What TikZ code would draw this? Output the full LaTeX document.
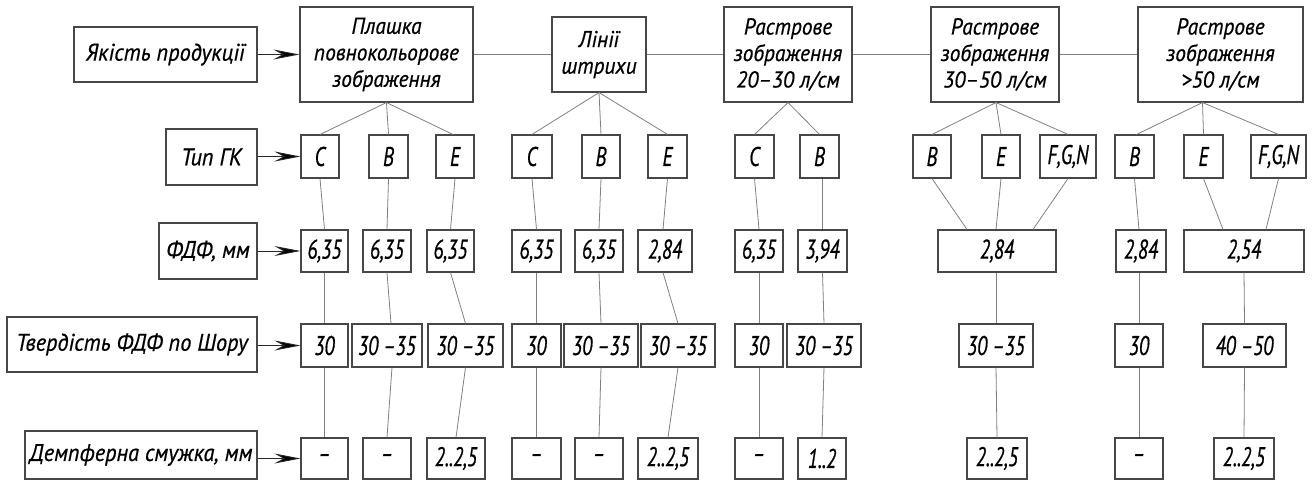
\documentclass[tikz,border=0pt]{standalone}
\usepackage{fontspec}
\setmainfont{PT Sans}[FakeStretch=0.93,FakeBold=0.6]
\newfontfamily\cellfont{PT Sans}[FakeStretch=0.72,FakeBold=0.6]
\usetikzlibrary{arrows.meta,calc}

\tikzset{
  cell/.style={draw=black!72, line width=1.1pt, inner sep=0pt, align=center,
    font=\cellfont\itshape\fontsize{27}{30}\selectfont},
  lbl/.style={cell, font=\itshape\fontsize{24}{28}\selectfont},
  head/.style={cell, font=\itshape\fontsize{23}{26.5}\selectfont},
  link/.style={draw=black!50, line width=0.8pt},
  feed/.style={draw=black!85, line width=0.9pt,
    -{Stealth[length=26pt,width=10pt,inset=9pt,fill=black]}},
}

% box given by its corners: name, x1, y1, x2, y2, text
\newcommand\mybox[7][cell]{%
  \node[#1, minimum width={#5-#3}, minimum height={#6-#4}] (#2)
    at ({(#3+#5)/2},{(#4+#6)/2}) {#7};}

\begin{document}
\begin{tikzpicture}[x=1pt,y=-1pt]
\useasboundingbox (0,0) rectangle (1312,480);

% ---- row 1: quality and kinds of printed image
\mybox[lbl]{q}{74}{27}{257}{82}{Якість продукції}
\mybox[head]{h1}{300}{7}{473}{102}{Плашка\\повнокольорове\\зображення}
\mybox[head]{h2}{552}{17}{646}{92}{Лінії\\штрихи}
\mybox[head]{h3}{724}{7}{852}{102}{Растрове\\зображення\\20–30 л/см}
\mybox[head]{h4}{931}{7}{1059}{102}{Растрове\\зображення\\30–50 л/см}
\mybox[head]{h5}{1138}{7}{1303}{102}{Растрове\\зображення\\>50 л/см}

% ---- row 2: corrugated board type
\mybox[lbl]{lt}{166}{129}{257}{185}{Тип ГК}
\mybox{t11}{301}{135}{339}{178}{C}
\mybox{t12}{369}{135}{408}{178}{B}
\mybox{t13}{436}{135}{474}{178}{E}
\mybox{t21}{512}{135}{552}{178}{C}
\mybox{t22}{582}{135}{620}{178}{B}
\mybox{t23}{648}{135}{687}{178}{E}
\mybox{t31}{735}{135}{774}{178}{C}
\mybox{t32}{800}{135}{839}{178}{B}
\mybox{t41}{913}{135}{951}{178}{B}
\mybox{t42}{982}{135}{1020}{178}{E}
\mybox{t43}{1040}{135}{1096}{178}{F,G,N}
\mybox{t51}{1115}{135}{1154}{178}{B}
\mybox{t52}{1184}{135}{1223}{178}{E}
\mybox{t53}{1251}{135}{1306}{178}{F,G,N}

% ---- row 3: plate thickness
\mybox[lbl]{lf}{159}{223}{257}{279}{ФДФ, мм}
\mybox{f11}{301}{230}{348}{272}{6,35}
\mybox{f12}{363}{230}{411}{272}{6,35}
\mybox{f13}{427}{230}{474}{272}{6,35}
\mybox{f21}{512}{230}{561}{272}{6,35}
\mybox{f22}{575}{230}{623}{272}{6,35}
\mybox{f23}{638}{230}{692}{272}{2,84}
\mybox{f31}{735}{230}{783}{272}{6,35}
\mybox{f32}{798}{230}{847}{272}{3,94}
\mybox{f4}{938}{230}{1056}{272}{2,84}
\mybox{f51}{1116}{230}{1166}{272}{2,84}
\mybox{f52}{1184}{230}{1304}{272}{2,54}

% ---- row 4: Shore hardness
\mybox[lbl]{lh}{7}{317}{257}{372}{Твердість ФДФ по Шору}
\mybox{s11}{301}{324}{348}{367}{30}
\mybox{s12}{352}{324}{422}{367}{30 –35}
\mybox{s13}{428}{324}{503}{367}{30 –35}
\mybox{s21}{512}{324}{561}{367}{30}
\mybox{s22}{564}{324}{638}{367}{30 –35}
\mybox{s23}{641}{324}{715}{367}{30 –35}
\mybox{s31}{735}{324}{783}{367}{30}
\mybox{s32}{787}{324}{861}{367}{30 –35}
\mybox{s4}{959}{324}{1033}{367}{30 –35}
\mybox{s51}{1115}{324}{1163}{367}{30}
\mybox{s52}{1203}{324}{1286}{367}{40 –50}

% ---- row 5: damping strip
\mybox[lbl]{ld}{25}{431}{257}{479}{Демпферна смужка, мм}
\mybox{d11}{301}{438}{348}{479}{–}
\mybox{d12}{363}{438}{411}{479}{–}
\mybox{d13}{427}{438}{485}{479}{2..2,5}
\mybox{d21}{512}{438}{561}{479}{–}
\mybox{d22}{575}{438}{623}{479}{–}
\mybox{d23}{638}{438}{698}{479}{2..2,5}
\mybox{d31}{735}{438}{783}{479}{–}
\mybox{d32}{798}{438}{846}{479}{1..2}
\mybox{d4}{967}{438}{1027}{479}{2..2,5}
\mybox{d51}{1115}{438}{1163}{479}{–}
\mybox{d52}{1214}{438}{1274}{479}{2..2,5}

% ---- arrows from the row labels
\draw[feed] (q) -- (h1);
\draw[feed] (lt.east |- t11) -- (t11);
\draw[feed] (lf.east |- f11) -- (f11);
\draw[feed] (lh.east |- s11) -- (s11);
\draw[feed] (ld.east |- d11) -- (d11);

% ---- chain of image kinds
\draw[link] (h1) -- (h2);
\draw[link] (h2) -- (h3);
\draw[link] (h3) -- (h4);
\draw[link] (h4) -- (h5);

% ---- image kind -> board type
\draw[link] (t11.north) -- (h1.south) -- (t12.north);
\draw[link] (h1.south) -- ([xshift=-2]t13.north);
\draw[link] (t21.north) -- (h2.south) -- (t22.north);
\draw[link] (h2.south) -- (t23.north);
\draw[link] (t31.north) -- (h3.south) -- (t32.north);
\draw[link] (t41.north) -- ([xshift=1]h4.south) -- (t42.north);
\draw[link] ([xshift=1]h4.south) -- (t43.north);
\draw[link] ([xshift=2]t51.north) -- ([xshift=-18]h5.south) -- (t52.north);
\draw[link] ([xshift=-18]h5.south) -- (t53.north);

% ---- board type -> plate thickness
\draw[link] (t11.south) -- (f11.north);
\draw[link] (t12.south) -- (f12.north);
\draw[link] (t13.south) -- (f13.north);
\draw[link] (t21.south) -- (f21.north);
\draw[link] (t22.south) -- (f22.north);
\draw[link] (t23.south) -- ([xshift=-2]f23.north);
\draw[link] (t31.south) -- (f31.north);
\draw[link] ([xshift=3]t32.south) -- (f32.north);
\draw[link] (t41.south) -- ([xshift=-30]f4.north);
\draw[link] (t42.south) -- ([xshift=-1]f4.north);
\draw[link] (t43.south) -- ([xshift=36]f4.north);
\draw[link] (t51.south) -- ([xshift=-2]f51.north);
\draw[link] (t52.south) -- ([xshift=-21]f52.north);
\draw[link] (t53.south) -- ([xshift=22]f52.north);

% ---- plate thickness -> hardness
\draw[link] (f11.south) -- (s11.north);
\draw[link] (f12.south) -- ([xshift=4]s12.north);
\draw[link] (f13.south) -- (s13.north);
\draw[link] (f21.south) -- (s21.north);
\draw[link] (f22.south) -- (s22.north);
\draw[link] ([xshift=-2]f23.south) -- (s23.north);
\draw[link] (f31.south) -- (s31.north);
\draw[link] (f32.south) -- (s32.north);
\draw[link] ([xshift=-1]f4.south) -- (s4.north);
\draw[link] ([xshift=-2]f51.south) -- (s51.north);
\draw[link] (f52.south) -- (s52.north);

% ---- hardness -> damping strip
\draw[link] (s11.south) -- (d11.north);
\draw[link] ([xshift=5]s12.south) -- (d12.north);
\draw[link] (s13.south) -- (d13.north);
\draw[link] (s21.south) -- (d21.north);
\draw[link] (s22.south) -- (d22.north);
\draw[link] (s23.south) -- (d23.north);
\draw[link] (s31.south) -- (d31.north);
\draw[link] (s32.south) -- (d32.north);
\draw[link] (s4.south) -- (d4.north);
\draw[link] (s51.south) -- (d51.north);
\draw[link] (s52.south) -- (d52.north);
\end{tikzpicture}
\end{document}
